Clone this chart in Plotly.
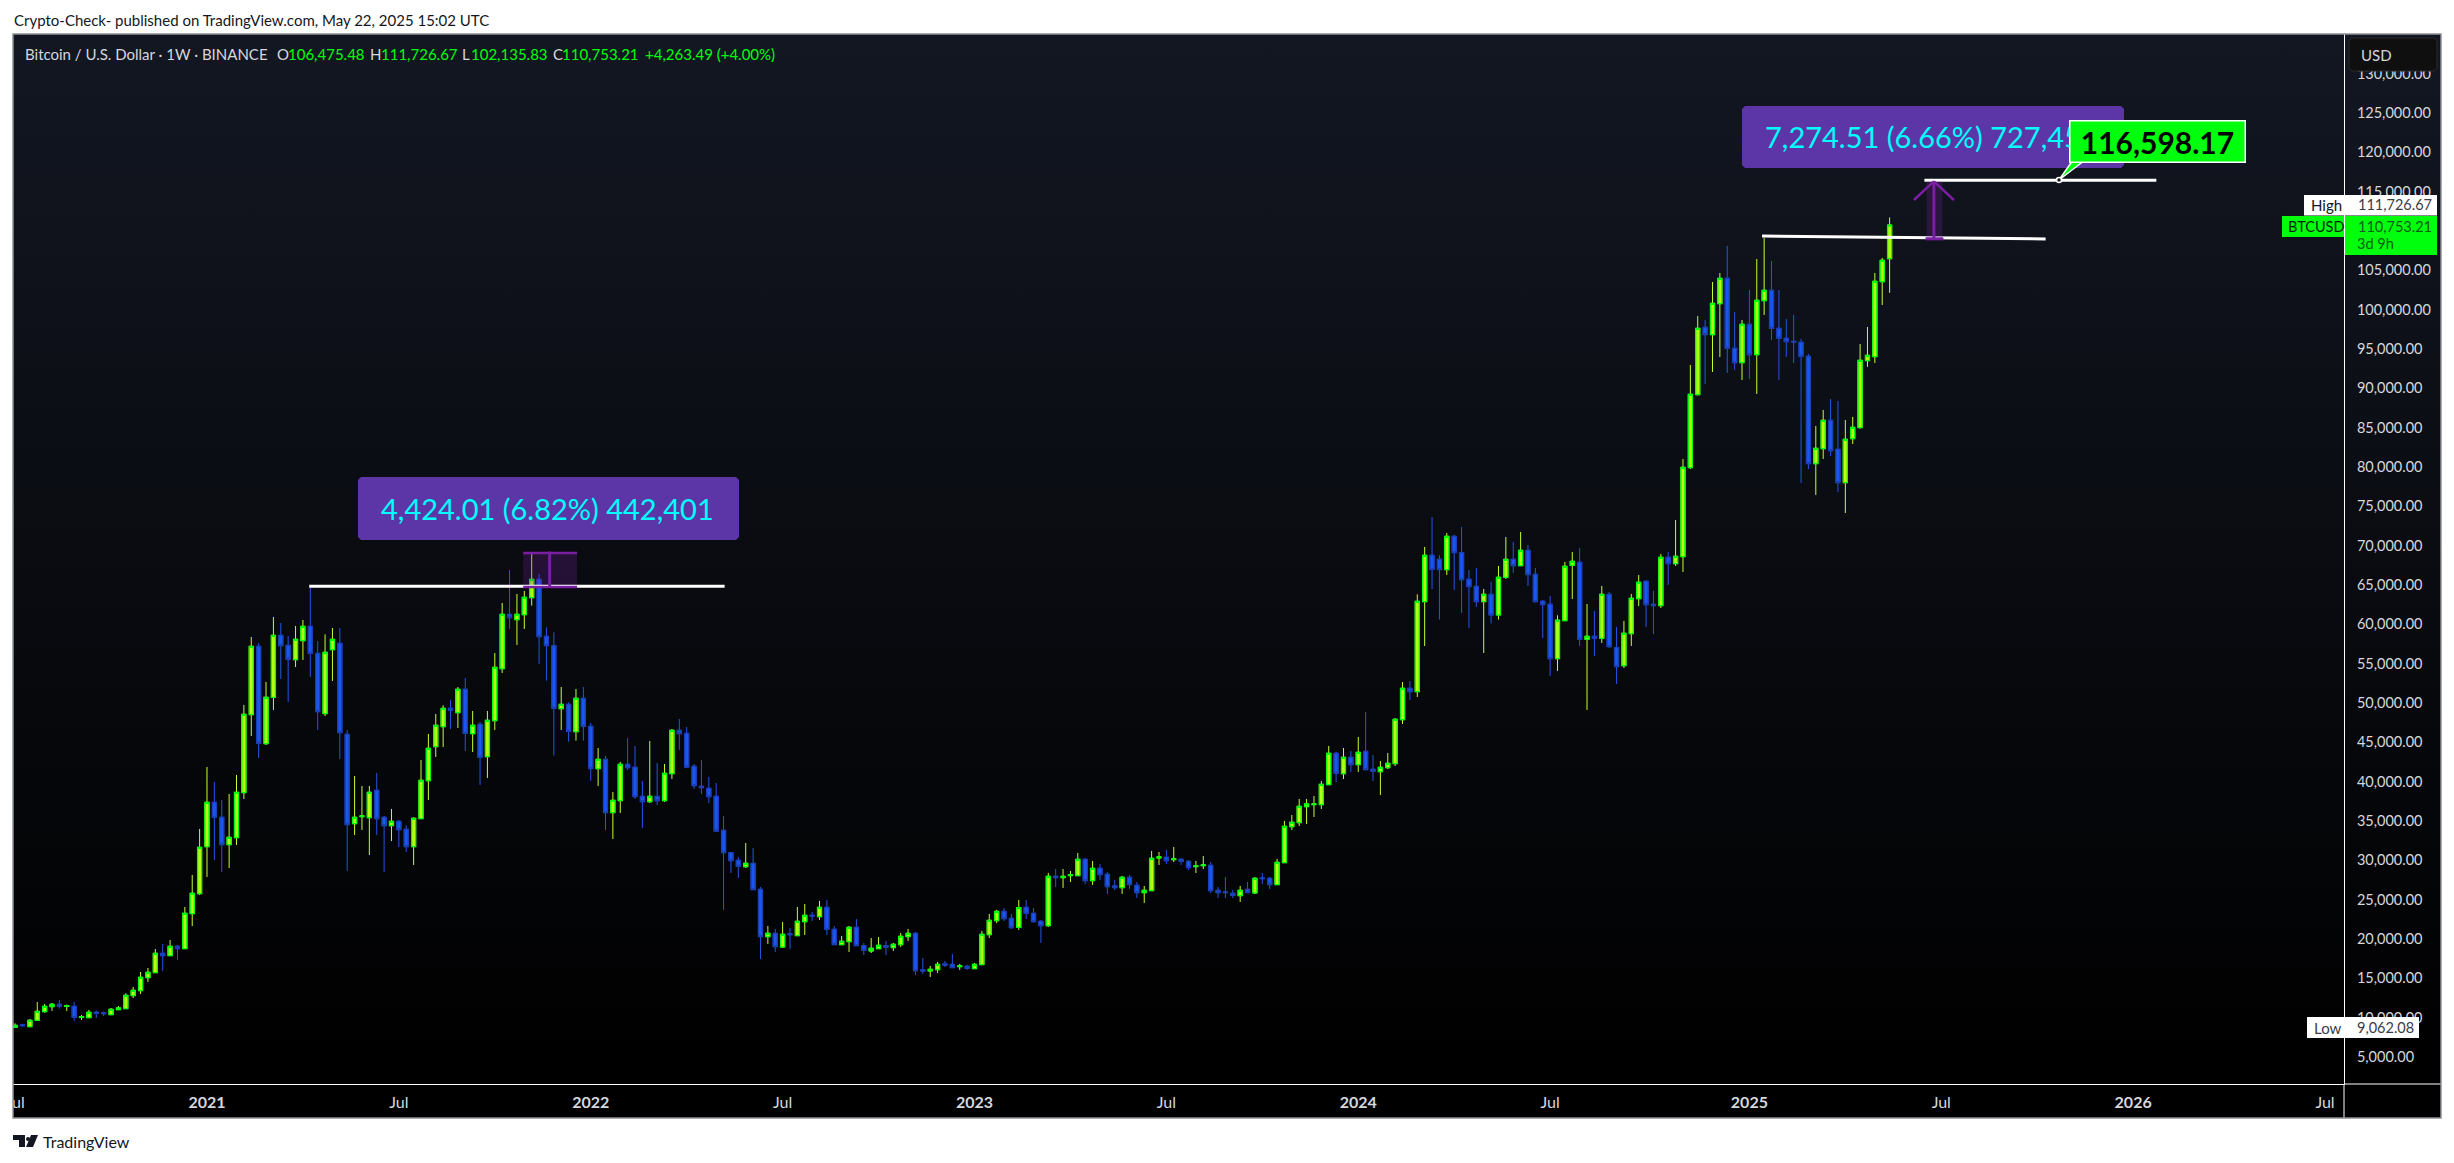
import pandas as pd
import plotly.graph_objects as go

W = 2454
H = 1163

# weekly candles
first_week = "2020-07-06"
opens = [8776,9073,8860,9665,10768,11403,11700,11446,11446,10047,10005,10683,10598,10385,11021,11149,12801,13436,15088,15724,18182,17885,19071,18775,23224,25765,31740,37375,35468,31994,32884,38604,48519,57204,44832,50722,58603,57331,55510,57925,59746,56315,48645,56781,57586,46019,34663,35553,35426,38901,35468,34409,34960,33943,31740,35299,40129,44451,46993,49323,48773,51739,46104,47290,43180,47756,54366,61272,60594,61229,
    63390,65720,58475,57289,49281,49832,46357,50594,47035,41654,42840,36063,37587,42205,41824,38138,37460,38138,37587,41018,46527,46146,41951,39408,39154,38138,33816,30977,30003,29199,29621,26317,20300,20723,18987,20638,20427,22207,23011,22842,24028,21232,19283,19664,21486,19156,18478,18775,19156,18902,19283,20300,20723,16063,15936,16105,16826,16783,16487,16529,16233,16741,20554,22334,23520,22630,21486,
    24029,23266,22250,21697,27969,27800,28054,28054,30130,27419,28986,28223,26741,26529,27843,26826,25894,26148,30300,30385,30088,30130,29876,29198,29325,29368,26190,25978,25809,25512,26317,25851,27758,27715,26910,29707,34283,34791,36825,37079,37079,39621,43604,41019,43096,42163,43858,41570,41273,41782,42290,47883,51866,
    51443,62886,68777,68267,66954,71190,69115,65725,64836,62886,63818,61191,65979,68267,67462,69411,66361,62928,62548,55641,60471,67505,67887,58099,58480,58225,63819,57039,54751,58819,63268,65471,62548,62378,68522,67717,68606,79919,89198,97757,96825,100765,103985,95087,93266,98138,94283,101146,102460,97630,96359,95977,95850,94071,80428,82334,85936,82249,78012,83605,85004,93520,94028,103562,106475.48]
highs = [9284,9242,9835,11997,11742,11870,12250,11658,11997,10343,10979,10895,10768,11233,11488,13097,13902,15809,16317,18733,19368,19876,19241,24071,28138,33986,41866,39960,37672,38434,40850,49747,58391,57628,52671,60933,60170,58518,59789,60552,64831,57882,58730,59535,59535,46569,40722,39451,39451,41104,35638,36528,35100,34452,35468,42756,46061,48603,49705,50383,52035,53179,48985,47586,48985,56357,62712,66907,63856,64238,
    69025,66398,59619,58984,52035,50086,51781,52035,47459,44281,43264,38688,42502,45552,44535,40087,45171,42374,42247,46696,47967,46950,42247,42756,40595,39832,35638,31020,30426,32206,31571,26613,21656,21274,22165,21401,24071,24452,23435,24833,24960,21656,20385,21656,22546,19496,20130,20257,19749,19496,20766,21274,20893,17588,16571,17080,17207,18097,16826,16699,16953,21020,23181,23690,23944,23181,24960,
    24961,23944,22419,28393,28902,28902,28647,30936,30300,29918,29537,28520,27503,28012,28139,27249,26741,31190,31063,31317,31698,30300,30000,29918,30554,29792,26614,27885,26232,26741,27249,27885,28393,27900,30172,35003,35766,37799,37799,38180,40087,44536,43800,44282,43901,45680,48858,43392,42629,43646,48095,52671,52798,
    63818,69835,73648,68818,71615,71400,72377,66911,67166,64496,65386,67419,71106,70471,71741,70089,67166,63098,63607,61151,67929,69200,69708,62590,61700,64878,64116,59666,60429,63861,66276,65600,64242,68945,69200,73267,81020,92969,99197,98689,103519,104663,108095,99706,98689,102502,106443,109112,106188,102502,98816,99325,96274,94367,85216,87249,88647,88393,85978,86360,95638,97799,104663,106570,111726.67]
lows = [8733,8860,8818,9623,10640,10852,11149,10852,9581,9708,9963,9963,10216,10343,10979,11107,12504,13013,14537,15682,15937,17843,17334,18733,21656,25596,27884,30045,28520,29028,31952,37798,45807,43011,44663,49112,53052,50129,54578,55467,53306,46569,48349,52798,42883,28647,33223,33858,30681,33223,28520,32460,31697,31062,29410,35260,37672,43137,44409,46697,46824,43900,43773,39578,40468,46569,53815,59408,57374,59408,
    62373,54981,52840,43306,46569,45086,45213,45213,40129,39451,33858,32714,36019,41484,37799,34112,37291,37036,37417,40340,44027,41739,39069,38434,37291,33604,23690,28392,27757,29029,26232,17461,19368,18351,18859,18733,20385,20511,22291,22418,20511,19241,19241,18351,19114,17970,18224,18733,17970,18478,18987,19749,15428,15554,15174,15681,16445,16318,16063,16063,16190,16699,20130,22037,22291,21274,21148,
    22546,22080,19496,21530,26614,26487,27249,28012,26995,26868,27503,25724,26232,25724,26360,25216,24580,26105,29410,29537,29792,29410,28774,28393,28902,25851,25216,25216,25216,24707,25851,25724,26995,26360,26868,29665,33859,34367,34622,35511,36528,39579,39960,40342,41231,41231,41486,40087,38308,41613,41994,47333,50383,
    50765,57247,64496,60603,66276,64369,61445,59535,62208,56356,60107,60600,65767,66530,67400,64877,62800,58268,53438,54074,60400,63225,57252,49116,55980,57632,56997,52421,54455,57252,62335,59666,58776,62081,65005,67420,66657,79750,89100,90554,92080,93986,91952,92333,91062,91190,89283,99325,96147,91062,93986,93223,77970,79750,76445,81020,81402,76826,74156,82928,84900,92715,93222,100596,102135.83]
closes = [9030,8988,9665,10810,11446,11700,11446,11530,10047,10132,10683,10555,10513,11063,11233,12843,13479,15131,15766,18182,17885,19071,18775,23266,25808,31655,37375,35468,31994,32926,38646,48561,57204,44875,50722,58603,57289,55552,58094,59746,56315,48900,56442,58094,46230,34536,35468,35638,38646,35299,34409,34960,33901,31740,35341,40172,44239,47163,49323,49069,51739,46146,47163,43094,47798,54535,61272,60848,61272,63433,
    65720,58433,57289,49323,49832,46400,50594,47035,41654,42840,36063,37629,42205,41781,38095,37460,38138,37587,41061,46527,46103,41866,39493,39239,38095,33731,30977,29960,29241,29621,26274,20300,20723,19029,20596,20554,22249,23011,22927,24028,21232,19283,19707,21486,19156,18563,18817,19199,18944,19326,20342,20723,15978,15936,16147,16783,16699,16360,16571,16275,16783,20596,22376,23520,22588,21444,23986,
    23266,22207,21697,27969,27800,27969,28139,30130,27419,28986,28181,26656,26529,27843,26910,25894,26190,30257,30427,29961,30172,29876,29071,29283,29410,26148,25894,25894,25554,26190,25894,27715,27673,26910,29749,34325,34834,36867,37164,37164,39664,43604,41062,43096,42163,43731,41528,41316,41824,42333,47926,51866,51443,
    62928,68777,66996,66954,71190,69115,65682,64793,62886,63818,61191,65979,68267,67462,69411,66318,62886,62505,55641,60516,67378,68014,58099,58480,58225,63819,57166,54624,58861,63310,65344,62505,62378,68522,67717,68648,79961,89241,97630,96825,100808,103985,95087,93266,98138,94283,101189,102460,97630,96359,95935,95893,94071,80428,82376,85936,82080,78012,83520,85046,93562,94198,103604,106273,110753.21]

time_tick_dates = ["2020-07-06", "2021-01-04", "2021-07-05", "2022-01-03", "2022-07-04", "2023-01-02", "2023-07-03",
    "2024-01-01", "2024-07-01", "2025-01-06", "2025-07-07", "2026-01-05", "2026-07-06"]
time_tick_labels = ["Jul", "<b>2021</b>", "Jul", "<b>2022</b>", "Jul", "<b>2023</b>", "Jul",
    "<b>2024</b>", "Jul", "<b>2025</b>", "Jul", "<b>2026</b>", "Jul"]
price_ticks = list(range(5000, 135000, 5000))

GREEN = "#00ff0c"
UP_FILL = "#b8ff12"
UP_WICK = "#c4ff2e"
DOWN_FILL = "#1a56f0"
DOWN_EDGE = "#1b3fb5"
DOWN_WICK = "#2455e6"
PURPLE = "#7b1fa2"
PURPLE_SOFT = "rgba(123,31,162,0.25)"
LABEL_BLUE = "#5c35a7"
CYAN = "#00ffff"
AXIS_TEXT = "#d6d8dd"
FONT = "Lato"


def px(x):
    return x / W


def py(y):
    return 1 - y / H


def poly(points):
    return "M " + " L ".join(f"{px(x)},{py(y)}" for x, y in points) + " Z"


def round_box(x0, y0, x1, y1, r):
    # rounded rectangle, corners are flattened, too small to see the difference
    return poly([(x0 + r, y0), (x1 - r, y0), (x1, y0 + r), (x1, y1 - r), (x1 - r, y1), (x0 + r, y1), (x0, y1 - r), (x0, y0 + r)])


dates = pd.date_range(first_week, periods=len(opens), freq="7D")
body_top = [max(o, c) for o, c in zip(opens, closes)]
body_bottom = [min(o, c) for o, c in zip(opens, closes)]

fig = go.Figure()

# panel background, runs from dark navy at the top to black
fig.add_trace(go.Scatter(x=[0, 1, 1, 0, 0], y=[0, 0, 1, 1, 0], mode="lines", line=dict(width=0), fill="toself",
    fillgradient=dict(type="vertical", colorscale=[[0, "#000000"], [0.04, "#000000"], [1, "#131722"]]),
    hoverinfo="skip", showlegend=False))

fig.add_trace(go.Candlestick(x=dates, open=opens, high=highs, low=lows, close=closes,
    xaxis="x2", yaxis="y2", whiskerwidth=0, hoverinfo="skip", showlegend=False,
    increasing=dict(line=dict(color=UP_WICK, width=1), fillcolor=UP_FILL),
    decreasing=dict(line=dict(color=DOWN_WICK, width=1), fillcolor=DOWN_FILL)))

# bodies again on top: their border colour differs from the wick colour
fig.add_trace(go.Candlestick(x=dates, open=opens, high=body_top, low=body_bottom, close=closes,
    xaxis="x2", yaxis="y2", whiskerwidth=0, hoverinfo="skip", showlegend=False,
    increasing=dict(line=dict(color=GREEN, width=1.3), fillcolor=UP_FILL),
    decreasing=dict(line=dict(color=DOWN_EDGE, width=1.3), fillcolor=DOWN_FILL)))

shapes = []


def add_level(x0, y0, x1, y1, color="#ffffff", width=3):
    shapes.append(dict(type="line", xref="x2", yref="y2", x0=x0, y0=y0, x1=x1, y1=y1, line=dict(color=color, width=width), layer="above"))


# left drawing
shapes.append(dict(type="rect", xref="x2", yref="y2", x0="2021-10-31", x1="2021-12-21", y0=64746, y1=69069, fillcolor=PURPLE_SOFT, line=dict(width=0), layer="above"))
add_level("2021-04-11", 64830, "2022-05-10", 64830)
add_level("2021-10-31", 69069, "2021-12-21", 69069, PURPLE, 2.5)
add_level("2021-10-31", 64746, "2021-12-21", 64746, PURPLE, 2.5)
add_level("2021-11-25", 64746, "2021-11-25", 69250, PURPLE, 3)

# right drawing
add_level("2025-01-18", 109365, "2025-10-14", 108984)
add_level("2025-06-21", 116450, "2026-01-27", 116450)
shapes.append(dict(type="rect", xref="x2", yref="y2", x0="2025-06-23", x1="2025-07-08", y0=109000, y1=116300, fillcolor=PURPLE_SOFT, line=dict(width=0), layer="above"))
add_level("2025-06-30", 109000, "2025-06-30", 116300, PURPLE, 3)
add_level("2025-06-11", 113943, "2025-06-30", 116300, PURPLE, 2.5)
add_level("2025-07-19", 113943, "2025-06-30", 116300, PURPLE, 2.5)
add_level("2025-06-22", 109000, "2025-07-09", 109000, PURPLE, 3)

# text boxes
shapes.append(dict(type="path", xref="paper", yref="paper", path=round_box(1742, 106, 2124, 168, 3), fillcolor=LABEL_BLUE, line=dict(width=0), layer="above"))
shapes.append(dict(type="path", xref="paper", yref="paper", path=round_box(358, 477, 739, 540, 3), fillcolor=LABEL_BLUE, line=dict(width=0), layer="above"))
shapes.append(dict(type="path", xref="paper", yref="paper", path=poly([(2073, 160), (2085, 160), (2059, 180)]), fillcolor=GREEN, line=dict(color="#ffffff", width=1.5), layer="above"))
shapes.append(dict(type="circle", xref="paper", yref="paper", x0=px(2056.5), x1=px(2061.5), y0=py(182.5), y1=py(177.5), fillcolor="#131722", line=dict(color="#ffffff", width=1.5), layer="above"))

# axis widgets
shapes.append(dict(type="path", xref="paper", yref="paper", path=round_box(2349, 38, 2437, 71, 3), fillcolor="#0f0f0f", line=dict(color="#2b2b2b", width=1), layer="above"))
shapes.append(dict(type="rect", xref="paper", yref="paper", x0=px(2304), x1=px(2437), y0=py(215.5), y1=py(195), fillcolor="#ffffff", line=dict(width=0), layer="above"))
shapes.append(dict(type="rect", xref="paper", yref="paper", x0=px(2282), x1=px(2344), y0=py(237), y1=py(216), fillcolor=GREEN, line=dict(width=0), layer="above"))
shapes.append(dict(type="rect", xref="paper", yref="paper", x0=px(2345), x1=px(2437), y0=py(255), y1=py(216), fillcolor=GREEN, line=dict(width=0), layer="above"))
shapes.append(dict(type="rect", xref="paper", yref="paper", x0=px(2307), x1=px(2419), y0=py(1038), y1=py(1017), fillcolor="#ffffff", line=dict(width=0), layer="above"))

# rest of the axis lines and the outer frame, the white strip hides the cut Jul label
shapes.append(dict(type="rect", xref="paper", yref="paper", x0=0, x1=px(13), y0=py(1163), y1=py(0), fillcolor="#ffffff", line=dict(width=0), layer="above"))
shapes.append(dict(type="line", xref="paper", yref="paper", x0=px(2344), x1=px(2344), y0=py(1084), y1=py(1118), line=dict(color="#ffffff", width=1), layer="above"))
shapes.append(dict(type="line", xref="paper", yref="paper", x0=px(2344), x1=px(2441), y0=py(1084), y1=py(1084), line=dict(color="#ffffff", width=1), layer="above"))
shapes.append(dict(type="rect", xref="paper", yref="paper", x0=px(13), x1=px(2441), y0=py(1118), y1=py(34), fillcolor="rgba(0,0,0,0)", line=dict(color="#8f9196", width=1.5), layer="above"))

# TradingView logo
shapes.append(dict(type="path", xref="paper", yref="paper", path=poly([(13, 1135), (25, 1135), (25, 1147), (19, 1147), (19, 1140), (13, 1140)]), fillcolor="#131722", line=dict(width=0), layer="above"))
shapes.append(dict(type="circle", xref="paper", yref="paper", x0=px(26), x1=px(30), y0=py(1141), y1=py(1137), fillcolor="#131722", line=dict(width=0), layer="above"))
shapes.append(dict(type="path", xref="paper", yref="paper", path=poly([(31, 1135), (38, 1135), (33, 1147), (26, 1147)]), fillcolor="#131722", line=dict(width=0), layer="above"))

annotations = []


def add_text(x, y, text, color, size, anchor="left", **kw):
    annotations.append(dict(xref="paper", yref="paper", x=px(x), y=py(y), text=text, showarrow=False, xanchor=anchor, yanchor="middle",
        font=dict(family=FONT, size=size, color=color), borderpad=0, **kw))


add_text(13, 20, "Crypto-Check- published on TradingView.com, May 22, 2025 15:02 UTC", "#131722", 15)
add_text(42, 1141.5, "TradingView", "#131722", 16)

add_text(23.5, 54, "Bitcoin / U.S. Dollar · 1W · BINANCE", "#d6d8dd", 15)
for x, text, color in [(275.6, "O", "#d6d8dd"), (286.6, "106,475.48", GREEN), (368.7, "H", "#d6d8dd"), (379.7, "111,726.67", GREEN),
    (461, "L", "#d6d8dd"), (470, "102,135.83", GREEN), (552, "C", "#d6d8dd"), (561, "110,753.21", GREEN), (644, "+4,263.49 (+4.00%)", GREEN)]:
    add_text(x, 54, text, color, 15)

add_text(1764, 136, "7,274.51 (6.66%) 727,451", CYAN, 29)
add_text(380, 508, "4,424.01 (6.82%) 442,401", CYAN, 29)
annotations.append(dict(xref="paper", yref="paper", x=px(2157.5), y=py(141.5), text="<b>116,598.17</b>", showarrow=False, xanchor="center", yanchor="middle",
    width=172, height=38, bgcolor=GREEN, bordercolor="#ffffff", borderwidth=1.5, font=dict(family=FONT, size=30, color="#000000")))

add_text(2360, 55, "USD", "#d6d8dd", 15)
add_text(2310, 205, "High", "#131722", 15)
add_text(2357, 205, "111,726.67", "#3a3d45", 14.5)
add_text(2287, 226.5, "BTCUSD", "#06250a", 14.5)
add_text(2357, 226, "110,753.21", "#0b5c12", 14.5)
add_text(2356, 244, "3d 9h", "#0b5c12", 14.5)
add_text(2313, 1027.5, "Low", "#3a3d45", 15)
add_text(2356, 1027.5, "9,062.08", "#3a3d45", 14.5)

fig.update_layout(
    width=W, height=H, margin=dict(l=0, r=0, t=0, b=0, pad=0),
    paper_bgcolor="#ffffff", plot_bgcolor="rgba(0,0,0,0)", showlegend=False, hovermode=False,
    boxgap=0.45, boxgroupgap=0,
    xaxis=dict(domain=[px(13), px(2441)], range=[0, 1], visible=False, fixedrange=True, automargin=False),
    yaxis=dict(domain=[py(1118), py(34)], range=[0, 1], visible=False, fixedrange=True, automargin=False),
    xaxis2=dict(domain=[px(13), px(2344)], anchor="y2", type="date", range=["2020-07-04", "2026-07-24"], automargin=False,
        rangeslider=dict(visible=False), showgrid=False, zeroline=False,
        tickmode="array", tickvals=time_tick_dates, ticktext=time_tick_labels, ticks="outside", ticklen=4, tickcolor="rgba(0,0,0,0)",
        tickangle=0, tickfont=dict(family=FONT, size=16, color=AXIS_TEXT), showline=True, linecolor="#ffffff", linewidth=1),
    yaxis2=dict(domain=[py(1084), py(34)], anchor="x2", side="right", range=[1568, 135040], automargin=False, showgrid=False, zeroline=False,
        tickmode="array", tickvals=price_ticks, tickformat=",.2f", ticks="outside", ticklen=9, tickcolor="rgba(0,0,0,0)",
        tickfont=dict(family=FONT, size=14.5, color=AXIS_TEXT), showline=True, linecolor="#ffffff", linewidth=1),
    shapes=shapes, annotations=annotations,
)

fig.write_html("out.html", post_script="document.body.style.margin='0';", config=dict(displayModeBar=False))
